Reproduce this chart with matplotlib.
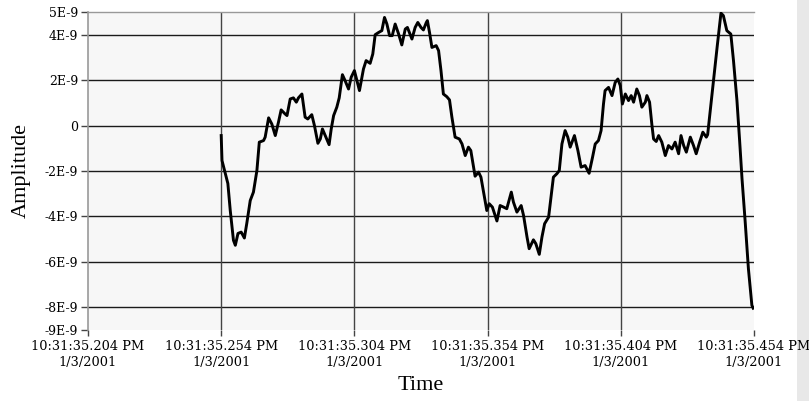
import matplotlib
matplotlib.use("Agg")
import matplotlib.pyplot as plt
from matplotlib.patches import Rectangle

# time in ms after 10:31:35.254 PM
t_ms = [0.0, 0.3, 1.5, 2.5, 3.4, 4.6, 5.3, 6.3, 7.5, 8.7, 9.6, 10.9, 12.1, 13.4, 14.3, 15.9,
        16.5, 17.8, 19.0, 20.3, 21.5, 22.5, 24.0, 24.7, 25.9, 27.1, 28.2, 29.0, 30.3, 31.5,
        32.5, 34.0, 35.0, 36.3, 37.2, 38.0, 39.3, 40.5, 41.3, 42.2, 43.4, 44.3, 45.5, 46.5,
        47.8, 48.8, 50.0, 51.9, 53.4, 54.4, 55.9, 56.9, 57.8, 59.1, 60.3, 61.3, 62.2, 63.2,
        64.2, 65.3, 66.6, 67.8, 69.1, 69.9, 71.6, 72.8, 73.8, 75.0, 75.9, 77.0, 77.4, 78.2,
        79.1, 80.7, 81.6, 82.5, 83.4, 84.7, 85.7, 86.6, 87.8, 89.4, 90.4, 91.6, 92.8, 93.7,
        95.3, 96.6, 97.5, 98.5, 99.7, 100.6, 101.8, 103.5, 104.7, 106.0, 107.2, 108.9, 109.7,
        111.0, 112.6, 113.5, 114.8, 115.6, 117.2, 118.1, 119.4, 120.4, 121.4, 122.9, 123.5,
        124.7, 126.0, 126.9, 127.9, 129.1, 130.1, 131.0, 132.6, 133.9, 135.1, 136.6, 138.1,
        139.4, 140.4, 141.6, 142.6, 143.5, 144.1, 145.4, 146.7, 147.9, 148.9, 149.8, 150.6,
        151.7, 152.9, 153.9, 154.8, 156.0, 157.0, 157.9, 159.2, 159.8, 160.8, 161.7, 162.3,
        163.3, 164.2, 165.4, 166.7, 167.9, 169.2, 170.4, 171.7, 172.6, 173.6, 174.6, 176.1,
        177.3, 178.3, 179.6, 180.8, 182.1, 182.6, 184.8, 186.2, 187.6, 188.5, 189.8, 191.3,
        192.3, 193.6, 194.6, 195.5, 196.7, 197.9, 199.2, 199.7]

# amplitude in units of 1E-9
amp_n = [-0.44, -1.54, -2.10, -2.55, -3.74, -5.05, -5.27, -4.75, -4.69, -4.95, -4.31, -3.30,
         -2.93, -1.98, -0.73, -0.66, -0.51, 0.34, 0.07, -0.44, 0.15, 0.69, 0.51, 0.44, 1.17,
         1.22, 1.03, 1.22, 1.39, 0.37, 0.29, 0.48, 0.00, -0.78, -0.59, -0.15, -0.51, -0.84,
         -0.15, 0.44, 0.81, 1.22, 2.24, 1.98, 1.61, 2.13, 2.42, 1.54, 2.49, 2.86, 2.74, 3.15,
         4.00, 4.10, 4.18, 4.76, 4.47, 3.96, 3.96, 4.47, 4.03, 3.55, 4.25, 4.32, 3.81, 4.32,
         4.54, 4.32, 4.21, 4.54, 4.62, 4.10, 3.44, 3.52, 3.30, 2.42, 1.39, 1.27, 1.13, 0.37,
         -0.51, -0.59, -0.81, -1.32, -0.95, -1.10, -2.23, -2.05, -2.27, -2.93, -3.74, -3.44,
         -3.59, -4.20, -3.52, -3.59, -3.66, -2.93, -3.37, -3.81, -3.52, -3.96, -4.91, -5.42,
         -5.03, -5.20, -5.67, -4.91, -4.32, -4.03, -3.44, -2.27, -2.12, -1.98, -0.81, -0.22,
         -0.51, -0.95, -0.44, -1.10, -1.83, -1.76, -2.10, -1.39, -0.81, -0.66, -0.22, 0.95,
         1.54, 1.68, 1.32, 1.90, 2.05, 1.76, 0.95, 1.39, 1.10, 1.32, 1.03, 1.61, 1.32, 0.81,
         1.03, 1.32, 1.03, 0.00, -0.59, -0.70, -0.44, -0.73, -1.32, -0.88, -1.03, -0.73,
         -1.24, -0.44, -0.88, -1.17, -0.51, -0.88, -1.24, -0.73, -0.29, -0.51, -0.40, 1.98,
         3.50, 4.95, 4.84, 4.18, 4.03, 2.86, 1.10, -0.66, -2.34, -4.25, -6.30, -7.91, -8.04]

start_ms = 50.0  # data starts at 10:31:35.254 PM (axis starts at 10:31:35.204 PM)

x_ticks = [0, 50, 100, 150, 200, 250]
x_tick_labels = ["10:31:35.204 PM\n1/3/2001", "10:31:35.254 PM\n1/3/2001",
                 "10:31:35.304 PM\n1/3/2001", "10:31:35.354 PM\n1/3/2001",
                 "10:31:35.404 PM\n1/3/2001", "10:31:35.454 PM\n1/3/2001"]
y_ticks = [5, 4, 2, 0, -2, -4, -6, -8, -9]
y_tick_labels = ["5E-9", "4E-9", "2E-9", "0", "-2E-9", "-4E-9", "-6E-9", "-8E-9", "-9E-9"]
grid_y = [4, 2, 0, -2, -4, -6, -8]
grid_x = [50, 100, 150, 200]

W, H = 809, 401
fig = plt.figure(figsize=(W / 100, H / 100), dpi=100)
fig.patch.set_facecolor("white")
fig.patches.append(Rectangle((797 / W, 0), 12 / W, 1, transform=fig.transFigure,
                             facecolor="#e8e8e8", edgecolor="none", zorder=-5))

ax = fig.add_axes([88 / W, 1 - 330 / H, (754 - 88) / W, (330 - 12) / H])
ax.set_facecolor("#f7f7f7")
ax.set_xlim(0, 250)
ax.set_ylim(-9, 5)

for gy in grid_y:
    ax.axhline(gy, color="#1a1a1a", lw=1.0, zorder=1)
for gx in grid_x:
    ax.axvline(gx, color="#444444", lw=1.0, zorder=1)

x_abs = [start_ms + v for v in t_ms]
ax.plot(x_abs, amp_n, color="black", lw=2.1, zorder=3, solid_joinstyle="round")

for s in ["right", "bottom"]:
    ax.spines[s].set_visible(False)
ax.spines["left"].set_color("#999999")
ax.spines["left"].set_linewidth(1.2)
ax.spines["top"].set_color("#999999")
ax.spines["top"].set_linewidth(1.0)

ax.set_xticks(x_ticks)
ax.set_xticklabels(x_tick_labels, fontfamily="DejaVu Serif", fontsize=9.3, linespacing=1.3)
ax.set_yticks(y_ticks)
ax.set_yticklabels(y_tick_labels, fontfamily="DejaVu Serif", fontsize=9)
ax.tick_params(axis="x", length=4, width=1, color="#444444", pad=3, direction="out")
ax.tick_params(axis="y", length=5, width=1, color="#444444", pad=2, direction="out")

ax.set_xlabel("Time", fontfamily="Liberation Serif", fontsize=16, labelpad=5)
ax.set_ylabel("Amplitude", fontfamily="Liberation Serif", fontsize=16, labelpad=10)

fig.savefig("out.png", dpi=100)
